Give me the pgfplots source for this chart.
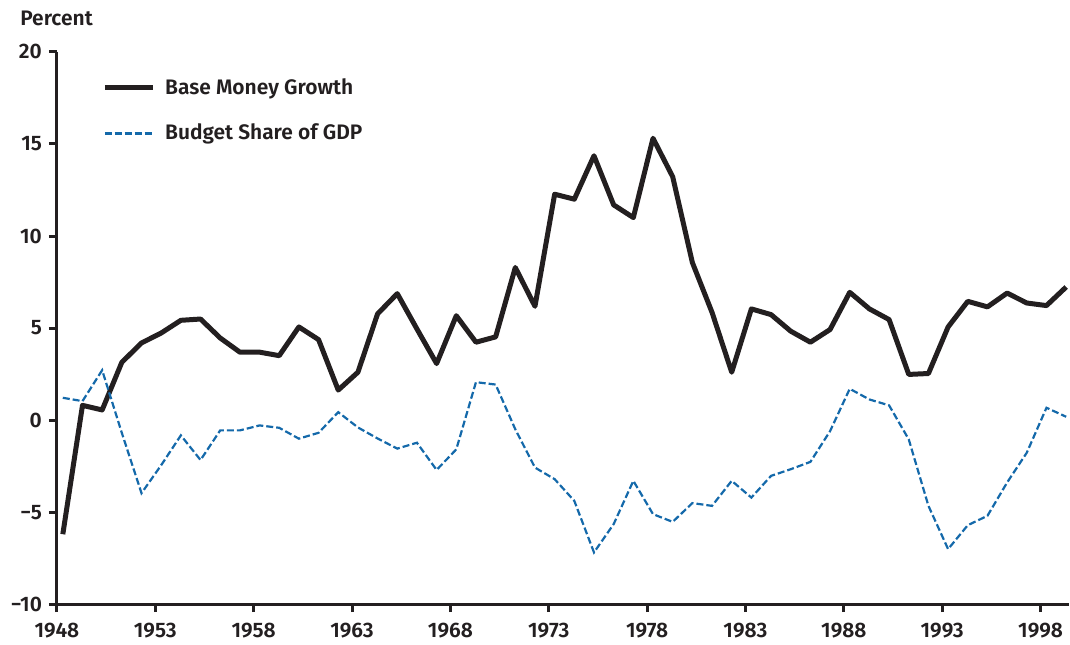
\documentclass[border=0pt]{standalone}
\usepackage{fontspec}
\setmainfont{Fira Sans}[UprightFont={* SemiBold}]
\usepackage{pgfplots}
\pgfplotsset{compat=1.18}
\definecolor{lineblack}{RGB}{35,31,32}
\definecolor{lineblue}{RGB}{20,105,170}
\begin{document}
\begin{tikzpicture}
\begin{axis}[
  scale only axis,
  width=506.5pt, height=276.5pt,
  xmin=1948, xmax=1999.42,
  ymin=-10, ymax=20,
  axis lines*=left,
  axis line style={lineblack, line width=1.5pt},
  every tick/.style={lineblack, line width=1.5pt},
  tick align=outside,
  major tick length=4pt,
  xtick={1948,1953,1958,1963,1968,1973,1978,1983,1988,1993,1998},
  xticklabels={1948,1953,1958,1963,1968,1973,1978,1983,1988,1993,1998},
  ytick={-10,-5,0,5,10,15,20},
  yticklabels={−10,−5,0,5,10,15,20},
  tick label style={font=\fontsize{10.5}{12}\selectfont, text=lineblack},
  xticklabel style={yshift=-2pt},
  yticklabel style={xshift=0pt},
  legend style={draw=none, fill=none, at={(rel axis cs:0,1)}, anchor=north west,
    xshift=22.5pt, yshift=-11pt, row sep=9.5pt, inner sep=0pt,
    font=\fontsize{10.5}{12}\selectfont, text=lineblack,
    /tikz/every odd column/.append style={column sep=3pt}},
  legend cell align=left,
  legend image code/.code={\draw[#1] (0pt,0pt) -- (24pt,0pt);},
]
\addplot[lineblack, line width=2.5pt, line join=round] coordinates {
(1948.3,-6.2) (1949.3,0.8) (1950.3,0.55) (1951.3,3.14) (1952.3,4.19)
(1953.3,4.73) (1954.3,5.42) (1955.3,5.49) (1956.3,4.46) (1957.3,3.69)
(1958.3,3.69) (1959.3,3.5) (1960.3,5.06) (1961.3,4.37) (1962.3,1.63)
(1963.3,2.6) (1964.3,5.77) (1965.3,6.87) (1966.3,4.95) (1967.3,3.07)
(1968.3,5.67) (1969.3,4.23) (1970.3,4.52) (1971.3,8.29) (1972.3,6.18)
(1973.3,12.27) (1974.3,12.0) (1975.3,14.36) (1976.3,11.69) (1977.3,11.0)
(1978.3,15.31) (1979.3,13.22) (1980.3,8.56) (1981.3,5.85) (1982.3,2.6)
(1983.3,6.04) (1984.3,5.73) (1985.3,4.83) (1986.3,4.23) (1987.3,4.92)
(1988.3,6.94) (1989.3,6.04) (1990.3,5.46) (1991.3,2.48) (1992.3,2.53)
(1993.3,5.06) (1994.3,6.45) (1995.3,6.15) (1996.3,6.9) (1997.3,6.36)
(1998.3,6.22) (1999.3,7.23)
};
\addlegendentry{Base Money Growth}
\addplot[lineblue, line width=1.1pt, dash pattern=on 3.5pt off 1.5pt] coordinates {
(1948.3,1.21) (1949.3,1.03) (1950.3,2.71) (1951.3,-0.7) (1952.3,-3.97)
(1953.3,-2.45) (1954.3,-0.83) (1955.3,-2.17) (1956.3,-0.56) (1957.3,-0.56)
(1958.3,-0.29) (1959.3,-0.42) (1960.3,-1.01) (1961.3,-0.69) (1962.3,0.43)
(1963.3,-0.4) (1964.3,-1.0) (1965.3,-1.55) (1966.3,-1.23) (1967.3,-2.71)
(1968.3,-1.59) (1969.3,2.06) (1970.3,1.93) (1971.3,-0.5) (1972.3,-2.58)
(1973.3,-3.21) (1974.3,-4.39) (1975.3,-7.19) (1976.3,-5.65) (1977.3,-3.3)
(1978.3,-5.11) (1979.3,-5.53) (1980.3,-4.51) (1981.3,-4.66) (1982.3,-3.3)
(1983.3,-4.21) (1984.3,-3.03) (1985.3,-2.67) (1986.3,-2.27) (1987.3,-0.6)
(1988.3,1.7) (1989.3,1.12) (1990.3,0.8) (1991.3,-1.05) (1992.3,-4.66)
(1993.3,-7.01) (1994.3,-5.71) (1995.3,-5.2) (1996.3,-3.39) (1997.3,-1.77)
(1998.3,0.67) (1999.3,0.18)
};
\addlegendentry{Budget Share of GDP}
\end{axis}
\node[anchor=base west, font=\fontsize{10.5}{12}\selectfont, text=lineblack, inner sep=0pt]
  at ([xshift=-18.5pt, yshift=13pt]current axis.north west) {Percent};
\path ([xshift=-28.5pt, yshift=-18pt]current axis.south west) rectangle ([yshift=26pt]current axis.north east);
\end{tikzpicture}
\end{document}
